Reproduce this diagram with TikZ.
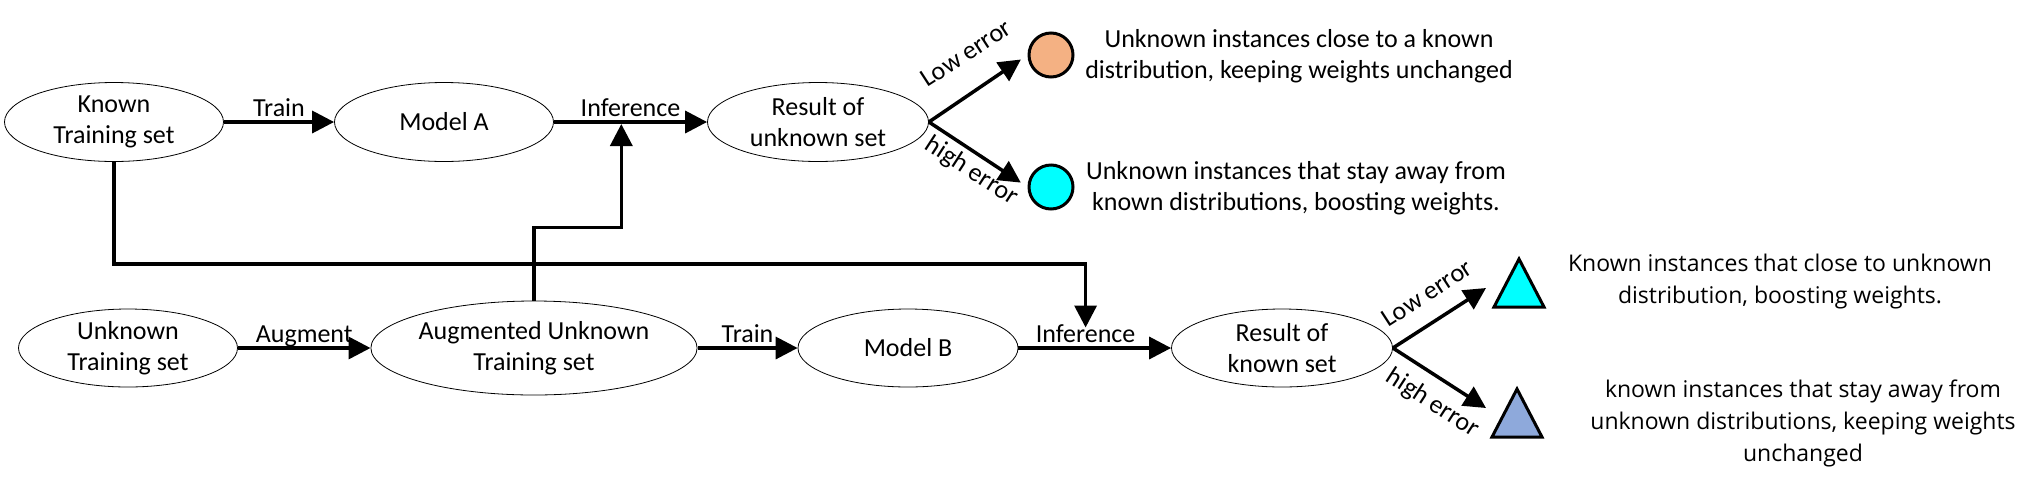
\documentclass[tikz,border=0pt]{standalone}
\usepackage{fontspec}
\setmainfont{Carlito}
\newfontfamily\notefont{Open Sans}
\usetikzlibrary{shapes.geometric,arrows.meta}
\definecolor{peach}{HTML}{F4B183}
\definecolor{aqua}{HTML}{00FFFF}
\definecolor{steel}{HTML}{8EA9DB}
\tikzset{
  oval/.style={ellipse, draw, line width=0.8pt, minimum width=219pt, minimum height=79pt, inner sep=0pt, align=center},
  conn/.style={line width=3.5pt, -{Triangle[length=22pt,width=22pt]}},
  lbl/.style={inner sep=2pt, text height=0.7em, text depth=0.2em},
  dot/.style={circle, draw, line width=3pt, minimum size=44pt, inner sep=0pt},
  note/.style={align=center, inner sep=0pt},
  tri/.style={draw, line width=3pt}
}
\begin{document}
\begin{tikzpicture}[x=1pt, y=-1pt, font=\fontsize{26}{31}\selectfont]
  \useasboundingbox (0,0) rectangle (2041,483);
  % top row
  \node[oval] (known) at (114,122) {Known\\Training set};
  \node[oval] (modelA) at (444,122) {Model A};
  \node[oval, minimum width=221pt] (resU) at (818,122) {Result of\\unknown set};
  % bottom row
  \node[oval, minimum height=78pt] (unknown) at (128,348) {Unknown\\Training set};
  \node[oval, minimum width=309pt, minimum height=94pt] (aug) at (534,348) {Augmented Unknown\\Training set};
  \node[oval, minimum width=220pt, minimum height=78pt] (modelB) at (908,348) {Model B};
  \node[oval, minimum width=221pt, minimum height=78pt] (resK) at (1282,348) {Result of\\known set};
  % main arrows
  \draw[conn] (known) -- node[above, lbl] {Train} (modelA);
  \draw[conn] (modelA) -- node[above, lbl] {Inference} coordinate[pos=0.44] (inA) (resU);
  \draw[conn] (unknown) -- node[above, lbl] {Augment} (aug);
  \draw[conn] (aug) -- node[above, lbl] {Train} (modelB);
  \draw[conn] (modelB) -- node[above, lbl, pos=0.44] (infB) {Inference} (resK);
  % cross links
  \draw[conn, shorten >=2pt] (aug.north) -- ++(0,-73) -| (inA);
  \draw[conn, shorten >=4pt] (known.south) -- ++(0,102) -| (infB.north);
  % unknown set results
  \node[dot, fill=peach] (lowU) at (1051,55) {};
  \node[dot, fill=aqua] (highU) at (1051,187) {};
  \draw[conn, shorten >=8pt] (resU.east) -- (lowU.west);
  \draw[conn, shorten >=8pt] (resU.east) -- (highU.west);
  \node[lbl, rotate=33] (lowtxtU) at (969,58) {Low error};
  \node[lbl, rotate=-33] (hightxtU) at (969,175) {high error};
  \node[note] (noteLowU) at (1299,56) {Unknown instances close to a known\\distribution, keeping weights unchanged};
  \node[note] (noteHighU) at (1296,188) {Unknown instances that stay away from\\known distributions, boosting weights.};
  % known set results
  \coordinate (triLow) at (1519,283);
  \coordinate (triHigh) at (1517,413);
  \draw[tri, fill=aqua] (triLow) +(0,-24) -- +(25,24) -- +(-25,24) -- cycle;
  \draw[tri, fill=steel] (triHigh) +(0,-24) -- +(25,24) -- +(-25,24) -- cycle;
  \coordinate (lowK) at (1486,288);
  \coordinate (highK) at (1486,408);
  \draw[conn] (resK.east) -- (lowK);
  \draw[conn] (resK.east) -- (highK);
  \node[lbl, rotate=33] (lowtxtK) at (1430,298) {Low error};
  \node[lbl, rotate=-33] (hightxtK) at (1430,407) {high error};
  \node[note, font=\notefont\fontsize{23}{32}\selectfont] (noteLowK) at (1780,282) {Known instances that close to unknown\\distribution, boosting weights.};
  \node[note, font=\notefont\fontsize{23}{32}\selectfont] (noteHighK) at (1803,423) {known instances that stay away from\\unknown distributions, keeping weights\\unchanged};
\end{tikzpicture}
\end{document}
